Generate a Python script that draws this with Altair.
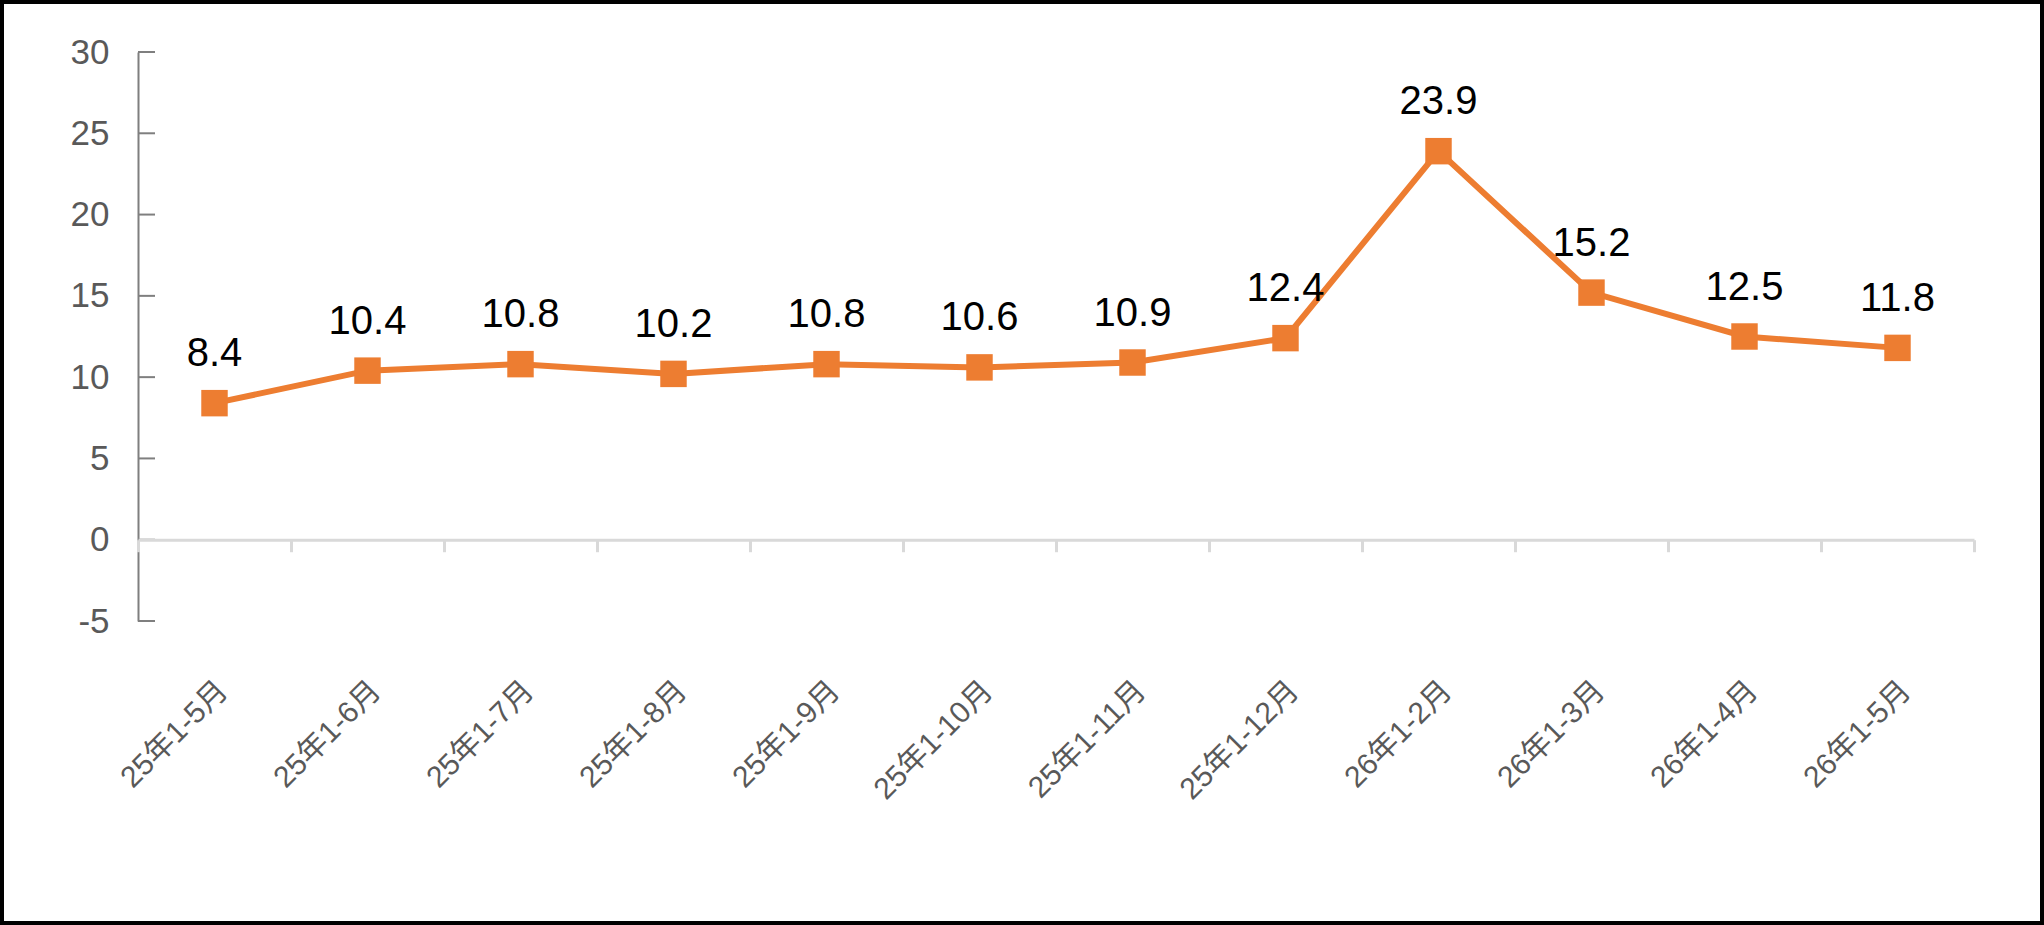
import altair as alt
import pandas as pd

categories = ["25年1-5月", "25年1-6月", "25年1-7月", "25年1-8月", "25年1-9月", "25年1-10月",
              "25年1-11月", "25年1-12月", "26年1-2月", "26年1-3月", "26年1-4月", "26年1-5月"]
values = [8.4, 10.4, 10.8, 10.2, 10.8, 10.6, 10.9, 12.4, 23.9, 15.2, 12.5, 11.8]
y_ticks = [-5, 0, 5, 10, 15, 20, 25, 30]

W, H = 1836, 569
PAD_L, PAD_T = 138, 52
ORANGE = "#ED7D31"
FONT = "Liberation Sans, Noto Sans CJK SC"

df = pd.DataFrame({"cat": categories, "val": values})
ticks_df = pd.DataFrame({"t": y_ticks})

y_scale = alt.Scale(domain=[-5, 30], nice=False, zero=False)
x_scale = alt.Scale(domain=categories, paddingInner=0, paddingOuter=0)

x_axis = alt.Axis(
    title=None, orient="bottom", offset=-H * 5 / 35,
    domainColor="#D9D9D9", domainWidth=3,
    tickColor="#D9D9D9", tickWidth=3, tickSize=12, tickBand="extent",
    labelAngle=-45, labelAlign="right", labelBaseline="middle",
    labelFont=FONT, labelFontSize=30, labelColor="#595959",
    labelPadding=134, labelOffset=8, labelLimit=400, zindex=1,
)
y_axis = alt.Axis(
    title=None, values=y_ticks, domainColor="#7F7F7F", domainWidth=2,
    ticks=False, tickSize=0, labelPadding=29, grid=False,
    labelExpr="'' + datum.value",
    labelFont=FONT, labelFontSize=35, labelColor="#595959",
)

base = alt.Chart(df)

line = base.mark_line(color=ORANGE, strokeWidth=6).encode(
    x=alt.X("cat:N", scale=x_scale, axis=x_axis, sort=categories, bandPosition=0.5),
    y=alt.Y("val:Q", scale=y_scale, axis=y_axis),
)
points = base.mark_point(shape="square", filled=True, size=700, color=ORANGE, opacity=1).encode(
    x=alt.X("cat:N", sort=categories, bandPosition=0.5),
    y=alt.Y("val:Q"),
)
labels = base.mark_text(font=FONT, fontSize=40, color="#000000", baseline="alphabetic",
                        align="center", dy=-37).encode(
    x=alt.X("cat:N", sort=categories, bandPosition=0.5),
    y=alt.Y("val:Q"),
    text=alt.Text("val:Q", format=".1f"),
)
ytick_marks = alt.Chart(ticks_df).mark_rule(color="#7F7F7F", strokeWidth=2).encode(
    y=alt.Y("t:Q"),
    x=alt.value(0),
    x2=alt.value(17),
)
frame = alt.Chart(pd.DataFrame({"f": [0]})).mark_rect(
    fill=None, stroke="#000000", strokeWidth=4).encode(
    x=alt.value(2 - PAD_L), x2=alt.value(2042 - PAD_L),
    y=alt.value(2 - PAD_T), y2=alt.value(923 - PAD_T),
)

chart = alt.layer(ytick_marks, line, points, labels, frame).properties(
    width=W, height=H,
    padding={"left": PAD_L, "top": PAD_T, "right": 2044 - PAD_L - W, "bottom": 925 - PAD_T - H},
    autosize=alt.AutoSizeParams(type="none"),
    background="white",
).configure_view(stroke=None)

chart.save("out.html", embed_options={"renderer": "svg", "actions": False})
